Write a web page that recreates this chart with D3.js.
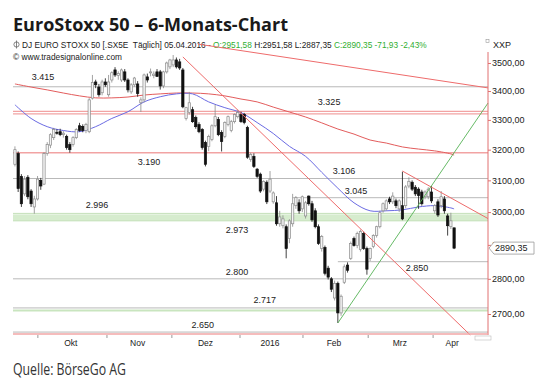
<!DOCTYPE html>
<html lang="de">
<head>
  <meta charset="utf-8">
  <title>EuroStoxx 50 – 6-Monats-Chart</title>
  <script src="https://cdn.jsdelivr.net/npm/d3@7"></script>
  <style>
    body { margin: 0; background: #fff; }
    text { font-family: "Liberation Sans", Arial, sans-serif; }
    .titel { font-family: "Open Sans", sans-serif; font-weight: 700; }
    .quelle { font-family: "Open Sans", sans-serif; }
  </style>
</head>
<body>
<script>
var width = 540, height = 390;   // fenster
var pLeft = 13, pRight = 488, pTop = 52, pBottom = 335;   // zeichenflaeche (nicht "top" - das ist window.top!)

// Tageskerzen 21.09.2015 - 05.04.2016
var opens  = [3152,3187,3112,3057,3110,3066,3016,3041,3100,3088,3187,3215,3240,3258,3260,3250,3244,3217,3217,3240,
              3280,3278,3264,3260,3375,3432,3414,3394,3432,3387,3439,3475,3455,3439,3468,3439,3397,3422,3425,3359,
              3369,3450,3465,3455,3468,3468,3418,3468,3486,3493,3511,3504,3475,3305,3325,3335,3308,3284,3267,3224,
              3210,3234,3280,3301,3257,3244,3284,3264,3294,3311,3318,3318,3274,3168,3178,3136,3120,3072,3094,3066,
              3032,3029,2964,2958,2955,2919,2964,3020,3029,3010,2988,3050,3026,3004,2955,2889,2892,2831,2800,2745,
              2787,2703,2790,2840,2860,2919,2898,2886,2934,2889,2860,2895,2928,2955,3004,3010,3041,3032,3035,3010,
              3020,3020,3082,3094,3078,3072,3063,3048,3048,3063,3004,3032,3020,3041,2988,2955,2951.58];
var highs  = [3211,3194,3120,3114,3117,3072,3051,3114,3108,3192,3225,3255,3273,3268,3270,3262,3250,3225,3245,3272,
              3290,3285,3290,3375,3457,3440,3425,3440,3445,3457,3470,3485,3470,3480,3478,3445,3428,3450,3435,3378,
              3462,3462,3480,3470,3478,3475,3472,3505,3515,3529,3520,3515,3482,3345,3397,3345,3315,3292,3272,3230,
              3250,3285,3352,3310,3265,3295,3315,3300,3322,3335,3328,3324,3280,3190,3188,3140,3125,3100,3100,3130,
              3065,3050,3004,2990,2962,2978,3057,3050,3040,3052,3035,3052,3035,3012,2962,2930,2898,2838,2805,2795,
              2792,2755,2842,2848,2910,2925,2940,2946,2940,2895,2892,2932,2958,3004,3030,3040,3048,3062,3042,3040,
              3128,3085,3110,3100,3085,3078,3070,3068,3078,3082,3025,3040,3066,3050,2995,2998,2951.58];
var lows   = [3145,3063,3016,3050,3040,3016,2995,3036,3070,3085,3180,3205,3232,3250,3245,3240,3200,3190,3210,3235,
              3260,3258,3255,3255,3370,3410,3380,3385,3415,3380,3430,3450,3440,3432,3432,3395,3390,3415,3380,3327,
              3360,3430,3452,3445,3450,3405,3410,3462,3478,3485,3480,3475,3340,3298,3318,3290,3270,3255,3200,3145,
              3195,3228,3275,3245,3194,3238,3278,3258,3288,3305,3290,3285,3170,3160,3140,3108,3060,3065,3025,3060,
              3026,2958,2955,2950,2860,2905,2955,3010,2995,3000,2980,3020,2970,2950,2900,2880,2810,2798,2762,2738,
              2675,2695,2785,2818,2855,2895,2890,2880,2885,2812,2852,2890,2922,2950,2998,3004,3025,3025,3012,3000,
              2975,3012,3075,3066,3050,3010,3020,3040,3040,3028,2995,2985,3012,2995,2928,2948,2887.35];
var closes = [3200,3074,3026,3104,3048,3026,3041,3104,3082,3187,3217,3250,3267,3257,3250,3255,3207,3200,3240,3267,
              3264,3264,3284,3369,3430,3422,3387,3432,3422,3432,3465,3457,3462,3475,3439,3404,3422,3446,3391,3369,
              3457,3439,3468,3460,3452,3418,3468,3500,3511,3511,3486,3482,3345,3342,3359,3294,3277,3260,3207,3152,
              3244,3280,3311,3250,3227,3291,3311,3294,3318,3325,3294,3291,3175,3184,3145,3113,3066,3097,3032,3104,
              3060,2964,2985,2979,2889,2973,3026,3045,3004,3048,3029,3026,2976,2955,2904,2925,2816,2805,2770,2787,
              2703,2750,2835,2825,2904,2898,2934,2940,2889,2828,2889,2928,2955,2998,3026,3035,3032,3050,3020,3035,
              2979,3079,3097,3072,3057,3052,3026,3063,3072,3035,3020,2991,3048,3004,2958,2973,2890.35];

var maIndex = [0,5,10,15,20,25,30,35,40,45,50,55,60,65,70,75,80,85,90,95,100,105,110,115,120,125,130,135,136];
var maBlau  = [3352,3305,3277,3264,3260,3277,3305,3328,3362,3380,3390,3390,3362,3342,3325,3291,3254,3211,3178,3126,
               3075,3029,3004,3004,3007,3016,3020,3013,3010];
var maRot   = [3425,3414,3404,3393,3383,3376,3376,3379,3386,3390,3393,3393,3390,3383,3372,3362,3344,3327,3310,3290,
               3269,3252,3232,3222,3209,3202,3196,3186,3182];

// Trendlinien: [kerze, kurs]
var trendSteil = [[52, 3522], [141, 2642]];
var trendLang  = [[56.7, 3569], [146.5, 3411]];
var trendKurz  = [[120, 3130], [146.5, 2980]];
var trendGruen = [[100, 2675], [146.5, 3358]];

// Unterstuetzungen / Widerstaende
var levels = [3415, 3325, 3190, 3106, 3045, 2996, 2973, 2850, 2800, 2717, 2650];

var yTicks = [3500, 3400, 3300, 3200, 3100, 3000, 2900, 2800, 2700];
var monthTicks = [7.1, 28.5, 48.6, 69.7, 89.2, 109.4, 129.5];
var monthNames = ["Okt", "Nov", "Dez", "2016", "Feb", "Mrz", "Apr"];
var monthLabelAt = [17.3, 38, 59, 79, 98.8, 119.2, 135.4];

var lastClose = 2890.35;

// --- aussehen der linien (nicht daten)
var grau = "#b9b9b9", rosa = "#f2a3a3", gruen = "#d6ecce";
var levelLook = {
  3415: {c: grau, from: -0.6, lx: 8.7,   dy: -7},
  3325: {c: rosa, from: -0.6, lx: 97.3,  dy: -8, doppelt: true},
  3190: {c: rosa, from: -0.6, lx: 41.5,  dy: 9,  w: 1.6},
  3106: {c: grau, from: -0.6, lx: 101.9, dy: -5},
  3045: {c: grau, from: 86,   lx: 105.6, dy: -4},
  2996: {c: "#c3e0b8", from: -0.6, lx: 25.4, dy: -5},
  2973: {c: "#c3e0b8", from: -0.6, lx: 68.8, dy: 9},
  2850: {c: grau, from: 100,  lx: 124.5, dy: 6},
  2800: {c: grau, from: -0.6, lx: 68.8,  dy: -4},
  2717: {c: grau, from: -0.6, lx: 77.4,  dy: -5, gruen: true},
  2650: {c: grau, from: -0.6, lx: 58.2,  dy: -4}
};

var de = d3.formatLocale({decimal: ",", thousands: ".", grouping: [3], currency: ["", " €"]});
var fmtLevel = de.format(",d");
var fmtAxis = de.format(".2f");

var svg = d3.select("body").append("svg")
  .attr("width", width)
  .attr("height", height);

var x = d3.scaleLinear().domain([-0.6, 146.5]).range([pLeft, pRight]);
var y = d3.scaleLog().domain([2642, 3540]).range([pBottom, pTop]);

// Kopf
svg.append("text").attr("class", "titel")
  .attr("x", 13).attr("y", 31)
  .attr("font-size", 18).attr("fill", "#1a1a1a")
  .attr("textLength", 275).attr("lengthAdjust", "spacingAndGlyphs")
  .text("EuroStoxx 50 – 6-Monats-Chart");

var kopf = svg.append("g").attr("font-size", 8.3);
kopf.append("circle").attr("cx", 16.5).attr("cy", 44.5).attr("r", 2.6)
  .attr("fill", "none").attr("stroke", "#666").attr("stroke-width", 0.8);
kopf.append("line").attr("x1", 16.5).attr("x2", 16.5).attr("y1", 40.5).attr("y2", 48.5)
  .attr("stroke", "#666").attr("stroke-width", 0.8);
var info = kopf.append("text").attr("x", 22).attr("y", 47.5).attr("fill", "#222");
info.append("tspan").text("DJ EURO STOXX 50 [.SX5E\u00a0 Täglich] 05.04.2016 - ");
info.append("tspan").attr("fill", "#2fae2f").text("O:2951,58 ");
info.append("tspan").text("H:2951,58 L:2887,35 ");
info.append("tspan").attr("fill", "#2fae2f").text("C:2890,35 -71,93 -2,43%");
kopf.append("text").attr("x", 13).attr("y", 59.5).attr("fill", "#222")
  .text("© www.tradesignalonline.com");
kopf.append("text").attr("x", 493).attr("y", 47.5).attr("fill", "#222").attr("font-size", 9)
  .text("XXP");
kopf.append("rect").attr("x", 486).attr("y", 39.5).attr("width", 3).attr("height", 3)
  .attr("fill", "none").attr("stroke", "#999").attr("stroke-width", 0.6);

// Linien der Marken
var gLevels = svg.append("g");

// gruenes Band zwischen 2996 und 2973
gLevels.append("rect")
  .attr("x", pLeft).attr("width", pRight - pLeft)
  .attr("y", y(2996) + 1).attr("height", y(2973) - y(2996) - 1)
  .attr("fill", gruen);

levels.forEach(function(v) {
  var L = levelLook[v];
  var yy = y(v);
  if (L.doppelt) {
    [-1.3, 1.3].forEach(function(o) {
      gLevels.append("line").attr("x1", x(L.from)).attr("x2", pRight)
        .attr("y1", yy + o).attr("y2", yy + o)
        .attr("stroke", L.c).attr("stroke-width", 1.2);
    });
  } else {
    gLevels.append("line").attr("x1", x(L.from)).attr("x2", pRight)
      .attr("y1", yy).attr("y2", yy)
      .attr("stroke", L.c).attr("stroke-width", L.w || 1);
  }
  if (L.gruen) {
    gLevels.append("line").attr("x1", x(L.from)).attr("x2", pRight)
      .attr("y1", yy + 2.6).attr("y2", yy + 2.6)
      .attr("stroke", "#c9e5bf").attr("stroke-width", 2);
  }
  gLevels.append("text")
    .attr("x", x(L.lx)).attr("y", yy + L.dy + (L.dy > 0 ? 3 : 0))
    .attr("text-anchor", "middle")
    .attr("font-size", 9).attr("fill", "#222")
    .text(fmtLevel(v));
});

// gleitende Durchschnitte
var maLine = d3.line()
  .x(function(d) { return x(d[0]); })
  .y(function(d) { return y(d[1]); })
  .curve(d3.curveCatmullRom);

svg.append("path")
  .attr("d", maLine(d3.zip(maIndex, maRot)))
  .attr("fill", "none").attr("stroke", "#e35c5c").attr("stroke-width", 1);
svg.append("path")
  .attr("d", maLine(d3.zip(maIndex, maBlau)))
  .attr("fill", "none").attr("stroke", "#6b6be3").attr("stroke-width", 1);

// Kerzen
var candles = opens.map(function(o, i) {
  return {i: i, o: o, h: highs[i], l: lows[i], c: closes[i]};
});
var bw = 2.3;
var gC = svg.append("g");
var k = gC.selectAll("g").data(candles).enter().append("g");
k.append("line")
  .attr("x1", function(d) { return x(d.i); })
  .attr("x2", function(d) { return x(d.i); })
  .attr("y1", function(d) { return y(d.h); })
  .attr("y2", function(d) { return y(d.l); })
  .attr("stroke", function(d) { return d.c < d.o ? "#111" : "#8c8c8c"; })
  .attr("stroke-width", 0.8);
k.append("rect")
  .attr("x", function(d) { return x(d.i) - bw / 2; })
  .attr("width", bw)
  .attr("y", function(d) { return y(Math.max(d.o, d.c)); })
  .attr("height", function(d) { return Math.max(1, Math.abs(y(d.o) - y(d.c))); })
  .attr("fill", function(d) { return d.c < d.o ? "#111" : "#f4f4f4"; })
  .attr("stroke", function(d) { return d.c < d.o ? "#111" : "#8c8c8c"; })
  .attr("stroke-width", 0.7);

// Trendlinien
var tl = d3.line()
  .x(function(d) { return x(d[0]); })
  .y(function(d) { return y(d[1]); });
[trendSteil, trendLang, trendKurz].forEach(function(t) {
  svg.append("path").attr("d", tl(t))
    .attr("fill", "none").attr("stroke", "#ee6b6b").attr("stroke-width", 1);
});
svg.append("path").attr("d", tl(trendGruen))
  .attr("fill", "none").attr("stroke", "#55b255").attr("stroke-width", 0.9);

// rechte Achse
var yAxis = d3.axisRight(y).tickValues(yTicks).tickFormat(fmtAxis).tickSize(3).tickPadding(1);
var gy = svg.append("g").attr("transform", "translate(" + pRight + ",0)").call(yAxis);
gy.select(".domain").attr("stroke", "#e07070").attr("d", "M0," + pTop + "V" + pBottom);
gy.selectAll(".tick line").attr("stroke", "#e07070");
gy.selectAll(".tick text").attr("font-size", 9).attr("fill", "#222")
  .attr("font-family", "Liberation Sans, Arial, sans-serif");

// Marke letzter Kurs (verdeckt 2900,00 wie im Original)
var ly = y(lastClose);
svg.append("path")
  .attr("d", "M489," + ly + "L494," + (ly - 6) + "H534V" + (ly + 6) + "H494Z")
  .attr("fill", "#fff").attr("stroke", "#999").attr("stroke-width", 0.8);
svg.append("text").attr("x", 495).attr("y", ly + 3.3)
  .attr("font-size", 9).attr("fill", "#222").text(fmtAxis(lastClose));

// untere Achse
var gx = svg.append("g");
gx.append("line").attr("x1", pLeft).attr("x2", pRight).attr("y1", pBottom - 1).attr("y2", pBottom - 1)
  .attr("stroke", "#f2a6a6").attr("stroke-width", 1.4);
gx.selectAll("line.t").data(monthTicks).enter().append("line")
  .attr("x1", function(d) { return x(d); }).attr("x2", function(d) { return x(d); })
  .attr("y1", pBottom).attr("y2", pBottom + 3)
  .attr("stroke", "#999");
gx.selectAll("text").data(monthNames).enter().append("text")
  .attr("x", function(d, i) { return x(monthLabelAt[i]); })
  .attr("y", 346)
  .attr("text-anchor", "middle")
  .attr("font-size", 8.5).attr("fill", "#222")
  .text(function(d) { return d; });

// kleines Symbol unten rechts
svg.append("rect").attr("x", 475).attr("y", 336).attr("width", 16).attr("height", 4)
  .attr("fill", "none").attr("stroke", "#bbb").attr("stroke-width", 0.6);

// Quelle
svg.append("text").attr("class", "quelle")
  .attr("x", 13).attr("y", 375)
  .attr("font-size", 15.5).attr("fill", "#333")
  .attr("textLength", 113).attr("lengthAdjust", "spacingAndGlyphs")
  .text("Quelle: BörseGo AG");
</script>
</body>
</html>
